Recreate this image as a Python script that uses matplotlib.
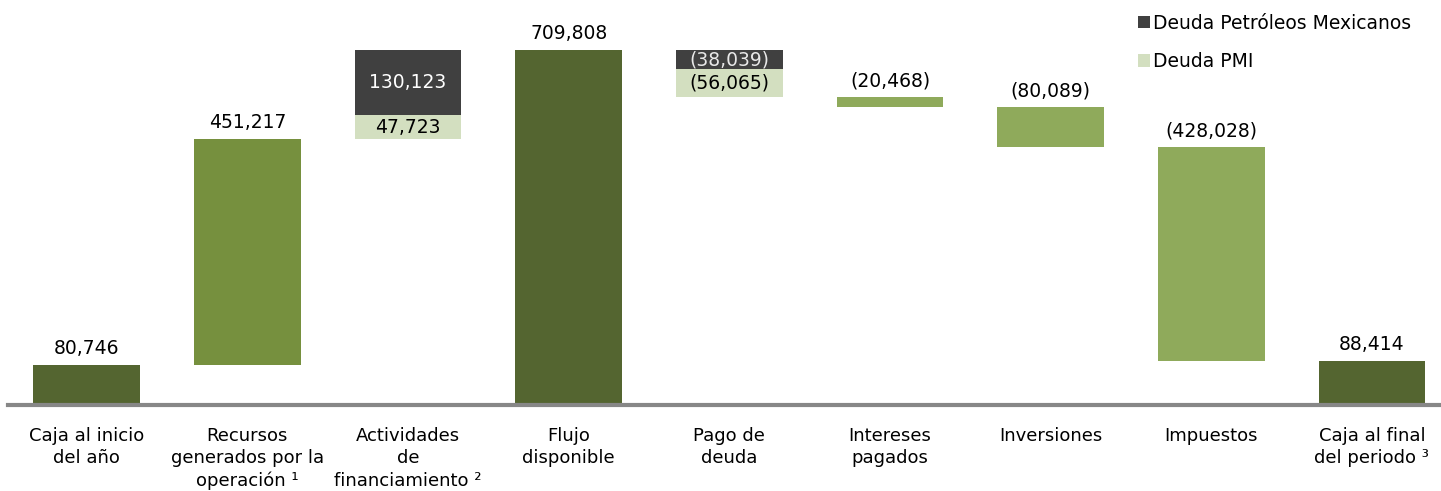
import matplotlib
matplotlib.use("Agg")
import matplotlib.pyplot as plt
import numpy as np

plt.rcParams['font.family'] = ['DejaVu Sans']

categorias = ["Caja al inicio\ndel año", "Recursos\ngenerados por la\noperación ¹",
              "Actividades\nde\nfinanciamiento ²", "Flujo\ndisponible", "Pago de\ndeuda",
              "Intereses\npagados", "Inversiones", "Impuestos", "Caja al final\ndel periodo ³"]

caja_inicio = 80746
recursos = 451217
financ_pemex = 130123
financ_pmi = 47723
flujo = 709808
pago_pemex = -38039
pago_pmi = -56065
intereses = -20468
inversiones = -80089
impuestos = -428028
caja_final = 88414

c_total = "#546530"
c_pos = "#76903E"
c_neg = "#8FAA5B"
c_pemex = "#404040"
c_pmi = "#D3DFC0"

fs_val = 13.5

def fmt(v):
    s = f"{abs(v):,}"
    return f"({s})" if v < 0 else s

fig = plt.figure(figsize=(14.41, 4.91), dpi=100)
ax = fig.add_axes([8/1441, 86/491, 1 - 8/1441, 405/491])
w = 0.665
x = np.arange(len(categorias))

def top_label(xi, top, v):
    ax.annotate(fmt(v), (xi, top), xytext=(0, 5), textcoords="offset points",
                ha="center", va="bottom", fontsize=fs_val)

# totales y flujos
ax.bar(x[0], caja_inicio, w, color=c_total)
top_label(x[0], caja_inicio, caja_inicio)

ax.bar(x[1], recursos, w, bottom=caja_inicio, color=c_pos)
top_label(x[1], caja_inicio + recursos, recursos)

base = caja_inicio + recursos
ax.bar(x[2], financ_pmi, w, bottom=base, color=c_pmi)
ax.text(x[2], base + financ_pmi / 2, fmt(financ_pmi), ha="center", va="center", fontsize=fs_val)
base += financ_pmi
ax.bar(x[2], financ_pemex, w, bottom=base, color=c_pemex)
ax.text(x[2], base + financ_pemex / 2, fmt(financ_pemex), ha="center", va="center",
        fontsize=fs_val, color="white")

ax.bar(x[3], flujo, w, color=c_total)
top_label(x[3], flujo, flujo)

nivel = flujo
ax.bar(x[4], pago_pemex, w, bottom=nivel, color=c_pemex)
ax.text(x[4], nivel + pago_pemex / 2, fmt(pago_pemex), ha="center", va="center",
        fontsize=fs_val, color="#E8E8E8")
nivel += pago_pemex
ax.bar(x[4], pago_pmi, w, bottom=nivel, color=c_pmi)
ax.text(x[4], nivel + pago_pmi / 2, fmt(pago_pmi), ha="center", va="center", fontsize=fs_val)
nivel += pago_pmi

for i, v in zip([5, 6, 7], [intereses, inversiones, impuestos]):
    ax.bar(x[i], v, w, bottom=nivel, color=c_neg)
    top_label(x[i], nivel, v)
    nivel += v

ax.bar(x[8], caja_final, w, color=c_total)
top_label(x[8], caja_final, caja_final)

# leyenda
ax.bar(0, 0, 0, color=c_pemex, label="Deuda Petróleos Mexicanos")
ax.bar(0, 0, 0, color=c_pmi, label="Deuda PMI")
leg = ax.legend(loc="upper left", bbox_to_anchor=(0.783, 0.985), frameon=False,
                fontsize=fs_val, handlelength=0.65, handleheight=0.65, handletextpad=0.2,
                labelspacing=1.05, borderaxespad=0)

ax.set_xlim(-0.49, 8.43)
ax.set_ylim(0, 809780)
ax.set_xticks(x)
ax.set_xticklabels(categorias, fontsize=13, linespacing=1.3)
ax.tick_params(axis="x", length=0, pad=16)
ax.set_yticks([])
for s in ["top", "right", "left"]:
    ax.spines[s].set_visible(False)
ax.spines["bottom"].set_color("#878787")
ax.spines["bottom"].set_linewidth(3)

fig.savefig("out.png", dpi=100)
